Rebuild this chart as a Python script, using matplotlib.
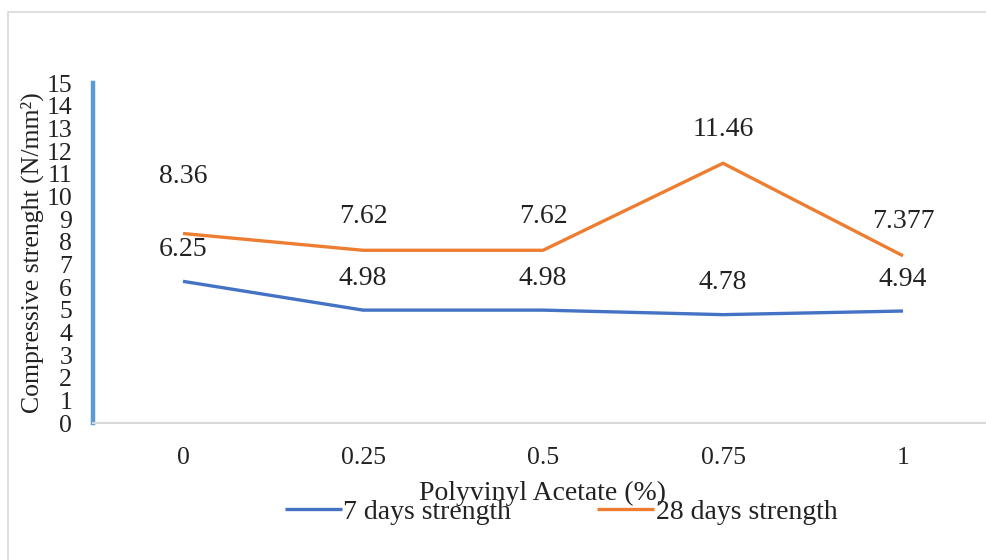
import matplotlib.pyplot as plt
from matplotlib.patches import Rectangle

plt.rcParams['font.family'] = ['Liberation Serif', 'DejaVu Serif']

pva = ['0', '0.25', '0.5', '0.75', '1']
strength_7 = [6.25, 4.98, 4.98, 4.78, 4.94]
strength_28 = [8.36, 7.62, 7.62, 11.46, 7.377]
labels_7 = ['6.25', '4.98', '4.98', '4.78', '4.94']
labels_28 = ['8.36', '7.62', '7.62', '11.46', '7.377']

blue = '#4472C4'
orange = '#ED7D31'
ink = '#222222'

fig = plt.figure(figsize=(9.87, 5.60), dpi=100)
# light frame around the chart area
fig.patches.append(Rectangle((8 / 987, -0.1), 1.2, 1 - 12 / 560 + 0.1, transform=fig.transFigure,
                             fill=False, edgecolor='#d9d9d9', linewidth=1.2))

ax = fig.add_axes([93 / 987, 137 / 560, 900 / 987, 340 / 560])
x = list(range(len(pva)))
ax.plot(x, strength_7, color=blue, linewidth=2.4, label='7 days strength', solid_capstyle='butt')
ax.plot(x, strength_28, color=orange, linewidth=2.4, label='28 days strength', solid_capstyle='butt')

for i, (v, t) in enumerate(zip(strength_7, labels_7)):
    ax.annotate(t, (i, v), xytext=(0, 32), textcoords='offset pixels',
                ha='center', va='center', fontsize=20, color=ink)
for i, (v, t) in enumerate(zip(strength_28, labels_28)):
    dy = 57 if i == 0 else 34
    ax.annotate(t, (i, v), xytext=(0, dy), textcoords='offset pixels',
                ha='center', va='center', fontsize=20, color=ink)

ax.set_xlim(-0.5, 4.5)
ax.set_ylim(0, 15)
ax.set_xticks(x)
ax.set_xticklabels(pva)
ax.set_yticks(range(16))
ax.tick_params(axis='both', length=0, labelsize=18.5, colors=ink)
ax.tick_params(axis='x', pad=17.5)
ax.tick_params(axis='y', pad=15)

for s in ['top', 'right']:
    ax.spines[s].set_visible(False)
ax.spines['left'].set_color('#5B9BD5')
ax.spines['left'].set_linewidth(3.2)
ax.spines['bottom'].set_color('#d9d9d9')
ax.spines['bottom'].set_linewidth(1.5)

ax.set_xlabel('Polyvinyl Acetate (%)', fontsize=20, labelpad=8.5, color=ink)
ax.set_ylabel('Compressive strenght (N/mm²)', fontsize=18.5, labelpad=2, color=ink)

fig.legend(*ax.get_legend_handles_labels(), loc='center', bbox_to_anchor=(561 / 987, 1 - 512 / 560),
           ncol=2, frameon=False, fontsize=20, handlelength=2.05, handletextpad=0.05,
           columnspacing=3.1, labelcolor=ink, borderaxespad=0, borderpad=0)

fig.savefig('out.png', dpi=100)
